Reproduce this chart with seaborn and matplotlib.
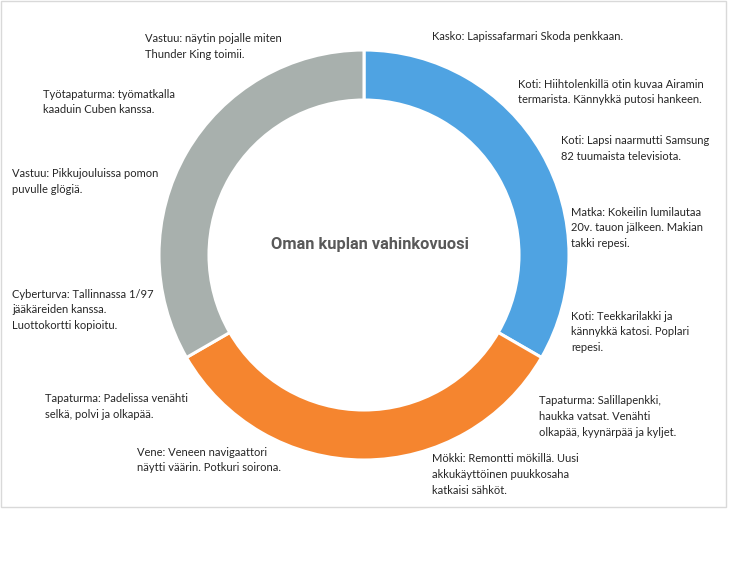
import matplotlib
matplotlib.use("Agg")
import matplotlib.pyplot as plt
import matplotlib.patches as mpatches
import seaborn as sns

# ---- data ----
groups = ["Koti / Kasko / Matka", "Tapaturma / Mökki / Vene", "Vastuu / Cyberturva / Työtapaturma"]
group_values = [1, 1, 1]
group_colors = ["#4FA3E2", "#F5852F", "#A8B0AD"]

title = "Oman kuplan vahinkovuosi"

labels = [
    "Kasko: Lapissafarmari Skoda penkkaan.",
    "Koti: Hiihtolenkillä otin kuvaa Airamin\ntermarista. Kännykkä putosi hankeen.",
    "Koti: Lapsi naarmutti Samsung\n82 tuumaista televisiota.",
    "Matka: Kokeilin lumilautaa\n20v. tauon jälkeen. Makian\ntakki repesi.",
    "Koti: Teekkarilakki ja\nkännykkä katosi. Poplari\nrepesi.",
    "Tapaturma: Salillapenkki,\nhaukka vatsat. Venähti\nolkapää, kyynärpää ja kyljet.",
    "Mökki: Remontti mökillä. Uusi\nakkukäyttöinen puukkosaha\nkatkaisi sähköt.",
    "Vene: Veneen navigaattori\nnäytti väärin. Potkuri soirona.",
    "Tapaturma: Padelissa venähti\nselkä, polvi ja olkapää.",
    "Cyberturva: Tallinnassa 1/97\njääkäreiden kanssa.\nLuottokortti kopioitu.",
    "Vastuu: Pikkujouluissa pomon\npuvulle glögiä.",
    "Työtapaturma: työmatkalla\nkaaduin Cuben kanssa.",
    "Vastuu: näytin pojalle miten\nThunder King toimii.",
]

# ---- layout (pixel positions of label boxes: left, first-line centre) ----
label_pos = [
    (432, 38), (518, 85), (561, 142), (571, 213), (571, 317),
    (539, 402), (432, 460), (137, 453), (45, 400), (12, 295),
    (12, 175), (43, 95), (145, 40),
]

W, H = 732, 561
sns.set_theme(style="white")
plt.rcParams["font.family"] = ["Lato", "DejaVu Sans"]

fig = plt.figure(figsize=(W / 100, H / 100), dpi=100)
fig.patch.set_facecolor("white")

cx, cy, r = 364, 255, 205
ax = fig.add_axes([(cx - r) / W, 1 - (cy + r) / H, 2 * r / W, 2 * r / H])
ax.pie(group_values, colors=group_colors, startangle=90, counterclock=False,
       radius=1, wedgeprops=dict(width=50 / 205, edgecolor="white", linewidth=2.2))
ax.set_xlim(-1, 1)
ax.set_ylim(-1, 1)
ax.set_axis_off()

ax.text(6 / 205, 10 / 205, title, ha="center", va="center", fontsize=11.8,
        fontweight="bold", color="#595959",
        family=["Roboto", "DejaVu Sans"])

for txt, (x, y) in zip(labels, label_pos):
    fig.text(x / W, 1 - (y - 6.5) / H, txt, ha="left", va="top",
             fontsize=8, color="#262626", linespacing=1.55)

# light frame around chart area
fig.add_artist(mpatches.Rectangle((1 / W, 1 - 507 / H), 725 / W, 506 / H,
                                  transform=fig.transFigure, fill=False,
                                  edgecolor="#D9D9D9", linewidth=1))

fig.savefig("out.png", dpi=100, facecolor="white")
